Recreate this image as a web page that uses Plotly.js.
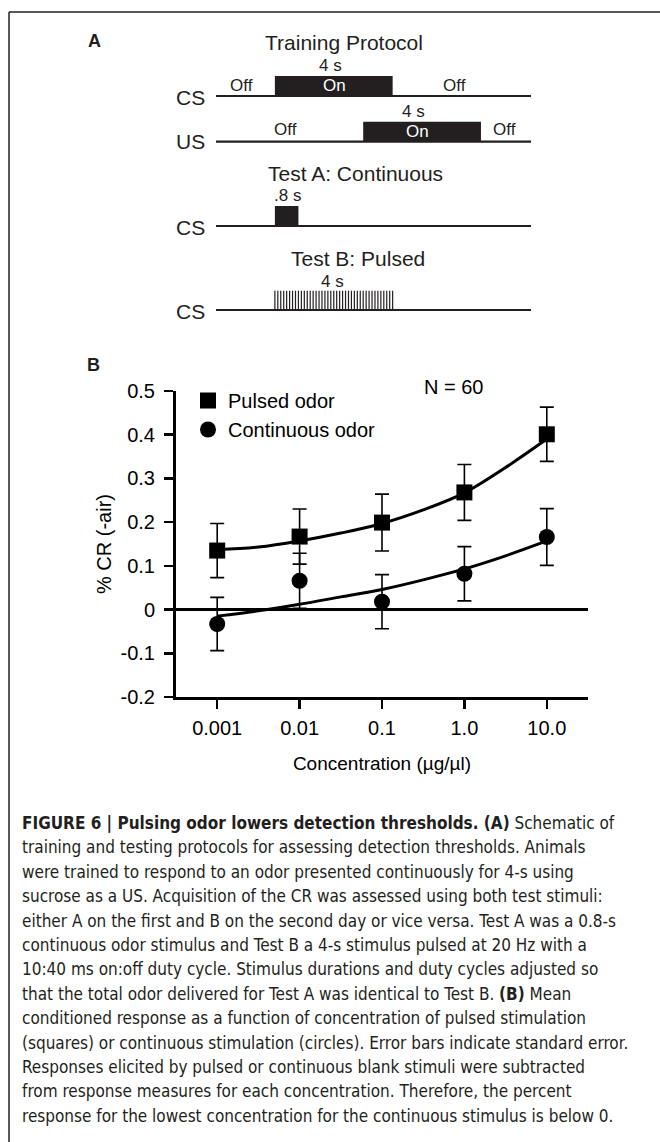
<!DOCTYPE html>
<html>
<head>
<meta charset="utf-8">
<script src="https://cdn.plot.ly/plotly-3.0.1.min.js"></script>
<style>html,body{margin:0;padding:0;background:#fff;}#chart{width:660px;height:1142px;}</style>
</head>
<body>
<div id="chart"></div>
<script>
// ---------- Panel B data ----------
const concLabels = ['0.001', '0.01', '0.1', '1.0', '10.0'];
const concIndex = [0, 1, 2, 3, 4];
const pulsedMean = [0.135, 0.167, 0.199, 0.268, 0.401];
const pulsedSE = [0.062, 0.063, 0.065, 0.064, 0.062];
const contMean = [-0.033, 0.066, 0.018, 0.082, 0.166];
const contSE = [0.061, 0.063, 0.062, 0.062, 0.065];
const fitPos = [0, 0.5, 1, 1.5, 2, 2.5, 3, 3.5, 4];
const pulsedFit = [0.137, 0.143, 0.157, 0.175, 0.197, 0.228, 0.267, 0.325, 0.39];
const contFit = [-0.015, -0.003, 0.012, 0.029, 0.046, 0.068, 0.093, 0.123, 0.157];
const yTickVals = [-0.2, -0.1, 0, 0.1, 0.2, 0.3, 0.4, 0.5];
const yTickText = ['-0.2', '-0.1', '0', '0.1', '0.2', '0.3', '0.4', '0.5'];

// ---------- Panel A data (time in s) ----------
const timeline = [-2, 8.7];
const csTraining = [0, 4];
const usTraining = [3, 7];
const testAStim = [0, 0.8];
const testBPulses = [0, 0.1, 0.2, 0.3, 0.4, 0.5, 0.6, 0.7, 0.8, 0.9, 1.0, 1.1, 1.2, 1.3, 1.4, 1.5, 1.6, 1.7, 1.8, 1.9,
  2.0, 2.1, 2.2, 2.3, 2.4, 2.5, 2.6, 2.7, 2.8, 2.9, 3.0, 3.1, 3.2, 3.3, 3.4, 3.5, 3.6, 3.7, 3.8, 3.9, 4.0];

// ---------- layout helpers ----------
const W = 660, H = 1142;
const px = v => v / W;
const py = v => 1 - v / H;
const rows = {cs: 96, us: 141.7, testA: 226, testB: 310};
const blockH = 20;
const dark = '#231f20';
const FONT = 'Arial, "Liberation Sans", Helvetica, sans-serif';
const CAPFONT = '"Liberation Sans Narrow", "Arial Narrow", "DejaVu Sans Condensed", "Liberation Sans", sans-serif';

function blockTrace(span, row) {
  return {
    x: [span[0], span[1], span[1], span[0], span[0]],
    y: [row, row, row - blockH, row - blockH, row],
    xaxis: 'x2', yaxis: 'y2', mode: 'lines', fill: 'toself',
    fillcolor: dark, line: {width: 0, color: dark},
    hoverinfo: 'skip', showlegend: false
  };
}

const baseX = [], baseY = [];
[rows.cs, rows.us, rows.testA, rows.testB].forEach(r => {
  baseX.push(timeline[0], timeline[1], null);
  baseY.push(r, r, null);
});
const pulseX = [], pulseY = [];
testBPulses.forEach(t => {
  pulseX.push(t, t, null);
  pulseY.push(rows.testB, rows.testB - blockH + 0.7, null);
});

const traces = [
  {x: baseX, y: baseY, xaxis: 'x2', yaxis: 'y2', mode: 'lines',
   line: {color: dark, width: 2.2}, hoverinfo: 'skip', showlegend: false},
  blockTrace(csTraining, rows.cs),
  blockTrace(usTraining, rows.us),
  blockTrace(testAStim, rows.testA),
  {x: pulseX, y: pulseY, xaxis: 'x2', yaxis: 'y2', mode: 'lines',
   line: {color: dark, width: 1.2}, hoverinfo: 'skip', showlegend: false},
  // fits
  {x: fitPos, y: pulsedFit, mode: 'lines', line: {color: '#000', width: 3, shape: 'spline'},
   showlegend: false, hoverinfo: 'skip'},
  {x: fitPos, y: contFit, mode: 'lines', line: {color: '#000', width: 3, shape: 'spline'},
   showlegend: false, hoverinfo: 'skip'},
  // data
  {x: concIndex, y: pulsedMean, name: 'Pulsed odor', mode: 'markers',
   marker: {symbol: 'square', size: 16, color: '#000'},
   error_y: {type: 'data', array: pulsedSE, visible: true, color: '#000', thickness: 1.6, width: 7}},
  {x: concIndex, y: contMean, name: 'Continuous odor', mode: 'markers',
   marker: {symbol: 'circle', size: 16, color: '#000'},
   error_y: {type: 'data', array: contSE, visible: true, color: '#000', thickness: 1.6, width: 7}}
];

function txt(text, x, y, size, opts) {
  return Object.assign({
    text: text, x: px(x), y: py(y), xref: 'paper', yref: 'paper',
    showarrow: false, xanchor: 'center', yanchor: 'middle',
    font: {family: FONT, size: size, color: dark}
  }, opts || {});
}

const annotations = [
  txt('<b>A</b>', 94, 41, 18),
  txt('<b>B</b>', 93, 365, 18),
  txt('Training Protocol', 344, 42, 21),
  txt('4 s', 330, 66, 17),
  txt('Off', 242, 85, 17),
  txt('On', 334, 86, 17, {font: {family: FONT, size: 17, color: '#fff'}}),
  txt('Off', 454, 85, 17),
  txt('CS', 207, 97, 21, {xanchor: 'right'}),
  txt('4 s', 413, 112, 17),
  txt('Off', 285, 129, 17),
  txt('On', 417, 131, 17, {font: {family: FONT, size: 17, color: '#fff'}}),
  txt('Off', 504, 129, 17),
  txt('US', 207, 142, 21, {xanchor: 'right'}),
  txt('Test A: Continuous', 355, 173, 21),
  txt('.8 s', 287, 196, 17),
  txt('CS', 207, 227, 21, {xanchor: 'right'}),
  txt('Test B: Pulsed', 358, 258, 21),
  txt('4 s', 332, 281, 17),
  txt('CS', 207, 311, 21, {xanchor: 'right'}),
  txt('N = 60', 453, 387, 20, {font: {family: FONT, size: 20, color: '#000'}})
];

const captionLines = [
  '<b>FIGURE 6 | Pulsing odor lowers detection thresholds. (A)</b> Schematic of',
  'training and testing protocols for assessing detection thresholds. Animals',
  'were trained to respond to an odor presented continuously for 4-s using',
  'sucrose as a US. Acquisition of the CR was assessed using both test stimuli:',
  'either A on the first and B on the second day or vice versa. Test A was a 0.8-s',
  'continuous odor stimulus and Test B a 4-s stimulus pulsed at 20 Hz with a',
  '10:40 ms on:off duty cycle. Stimulus durations and duty cycles adjusted so',
  'that the total odor delivered for Test A was identical to Test B. <b>(B)</b> Mean',
  'conditioned response as a function of concentration of pulsed stimulation',
  '(squares) or continuous stimulation (circles). Error bars indicate standard error.',
  'Responses elicited by pulsed or continuous blank stimuli were subtracted',
  'from response measures for each concentration. Therefore, the percent',
  'response for the lowest concentration for the continuous stimulus is below 0.'
];
captionLines.forEach((line, i) => {
  annotations.push(txt(line, 20, 823 + i * 24.4, 17,
    {xanchor: 'left', font: {family: CAPFONT, size: 17, color: dark}}));
});

const layout = {
  width: W, height: H,
  margin: {l: 0, r: 0, t: 0, b: 0},
  paper_bgcolor: '#fff', plot_bgcolor: 'rgba(0,0,0,0)',
  font: {family: FONT, color: '#000'},
  showlegend: true,
  legend: {x: px(188), y: py(381), xanchor: 'left', yanchor: 'top',
           font: {family: FONT, size: 20, color: '#000'}, bgcolor: 'rgba(0,0,0,0)',
           itemwidth: 30, tracegroupgap: 0},
  xaxis: {domain: [px(176), px(588)], range: [-0.5, 4.5], anchor: 'y',
          tickmode: 'array', tickvals: concIndex, ticktext: concLabels,
          ticks: 'outside', ticklen: 9, tickwidth: 2.5, tickcolor: '#000',
          showline: true, linewidth: 3, linecolor: '#000',
          showgrid: false, zeroline: false, ticklabelstandoff: 2,
          tickfont: {family: FONT, size: 20, color: '#000'},
          title: {text: 'Concentration (µg/µl)', font: {family: FONT, size: 19, color: '#000'}, standoff: 19}},
  yaxis: {domain: [py(697), py(391)], range: [-0.2, 0.5], anchor: 'x',
          tickmode: 'array', tickvals: yTickVals, ticktext: yTickText,
          ticks: 'outside', ticklen: 9, tickwidth: 2.5, tickcolor: '#000',
          showline: true, linewidth: 3, linecolor: '#000', ticklabelstandoff: 5,
          showgrid: false, zeroline: true, zerolinewidth: 2.5, zerolinecolor: '#000',
          tickfont: {family: FONT, size: 20, color: '#000'},
          title: {text: '% CR (-air)', font: {family: FONT, size: 20, color: '#000'}, standoff: 4}},
  xaxis2: {domain: [px(216), px(531)], range: timeline, anchor: 'y2', visible: false, fixedrange: true},
  yaxis2: {domain: [0, 1], range: [H, 0], anchor: 'x2', visible: false, fixedrange: true},
  annotations: annotations,
  shapes: [
    {type: 'line', xref: 'paper', yref: 'paper', x0: px(9), x1: 1, y0: py(12), y1: py(12),
     line: {color: dark, width: 1.5}},
    {type: 'line', xref: 'paper', yref: 'paper', x0: px(9), x1: px(9), y0: 0, y1: py(12),
     line: {color: dark, width: 1.5}}
  ]
};

Plotly.newPlot('chart', traces, layout, {displayModeBar: false, staticPlot: true});
</script>
</body>
</html>
